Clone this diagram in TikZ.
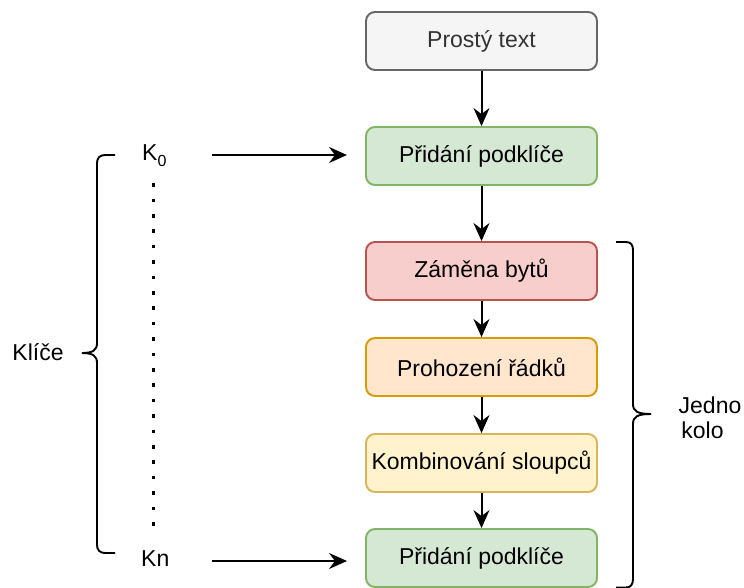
\documentclass[tikz,border=0pt]{standalone}
\usepackage{fontspec}
\setmainfont{Liberation Sans}
\usetikzlibrary{arrows.meta}
\definecolor{grayF}{HTML}{F5F5F5}\definecolor{grayS}{HTML}{666666}\definecolor{grayT}{HTML}{333333}
\definecolor{greenF}{HTML}{D5E8D4}\definecolor{greenS}{HTML}{82B366}
\definecolor{redF}{HTML}{F8CECC}\definecolor{redS}{HTML}{B85450}
\definecolor{orangeF}{HTML}{FFE6CC}\definecolor{orangeS}{HTML}{D79B00}
\definecolor{yellowF}{HTML}{FFF2CC}\definecolor{yellowS}{HTML}{D6B656}
\begin{document}
\begin{tikzpicture}[x=1pt,y=-1pt,
  txt/.style={font=\fontsize{23}{27}\selectfont, inner sep=0pt},
  box/.style={txt, draw, rounded corners=9pt, minimum width=231pt, minimum height=58pt, line width=1.9pt},
  arr/.style={-{Stealth[length=18pt,width=16pt,inset=6pt]}, line width=2pt},
  brace/.style={line width=1.9pt}]
\useasboundingbox (0,0) rectangle (744,587);
\node[box, fill=grayF, draw=grayS, text=grayT] (p) at (481.5,41) {Prostý text};
\node[box, fill=greenF, draw=greenS] (a1) at (481.5,156) {Přidání podklíče};
\node[box, fill=redF, draw=redS] (z) at (481.5,271) {Záměna bytů};
\node[box, fill=orangeF, draw=orangeS] (r) at (481.5,367) {Prohození řádků};
\node[box, fill=yellowF, draw=yellowS] (k) at (481.5,463) {Kombinování sloupců};
\node[box, fill=greenF, draw=greenS] (a2) at (481.5,558) {Přidání podklíče};
\draw[arr] (p) -- (a1);
\draw[arr] (a1) -- (z);
\draw[arr] (z) -- (r);
\draw[arr] (r) -- (k);
\draw[arr] (k) -- (a2);
% keys
\node[txt, anchor=base west] (k0) at (142,160) {K\raisebox{-6.5pt}{\fontsize{16}{16}\selectfont 0}};
\node[txt, anchor=base west] (kn) at (141,566) {Kn};
\coordinate (k0s) at (212,155);
\coordinate (k0e) at (347,155);
\coordinate (kns) at (212,561);
\coordinate (kne) at (347,561);
\draw[arr] (k0s) -- (k0e);
\draw[arr] (kns) -- (kne);
\coordinate (dtop) at (153.3,183.2);
\coordinate (dbot) at (153.3,525.6);
\draw[line width=3.6pt, dash pattern=on 3.6pt off 11.8pt] (dtop) -- (dbot);
% left brace
\draw[brace] (115,155) -- (105,155) .. controls (100,155) and (97,158) .. (97,163)
  -- (97,343) .. controls (97,350) and (93,353) .. (82,353)
  .. controls (93,353) and (97,356) .. (97,363)
  -- (97,545) .. controls (97,550) and (100,553) .. (105,553) -- (115,553);
\node[txt, anchor=base] (kl) at (38,360) {Klíče};
% right brace
\draw[brace] (616,242) -- (626,242) .. controls (631,242) and (633,245) .. (633,250)
  -- (633,404) .. controls (633,411) and (637,414) .. (651,414)
  .. controls (637,414) and (633,417) .. (633,424)
  -- (633,579) .. controls (633,584) and (631,587.5) .. (626,587.5) -- (616,587.5);
\node[txt, anchor=base] (j1) at (710,413) {Jedno};
\node[txt, anchor=base] (j2) at (702.5,438) {kolo};
\end{tikzpicture}
\end{document}
